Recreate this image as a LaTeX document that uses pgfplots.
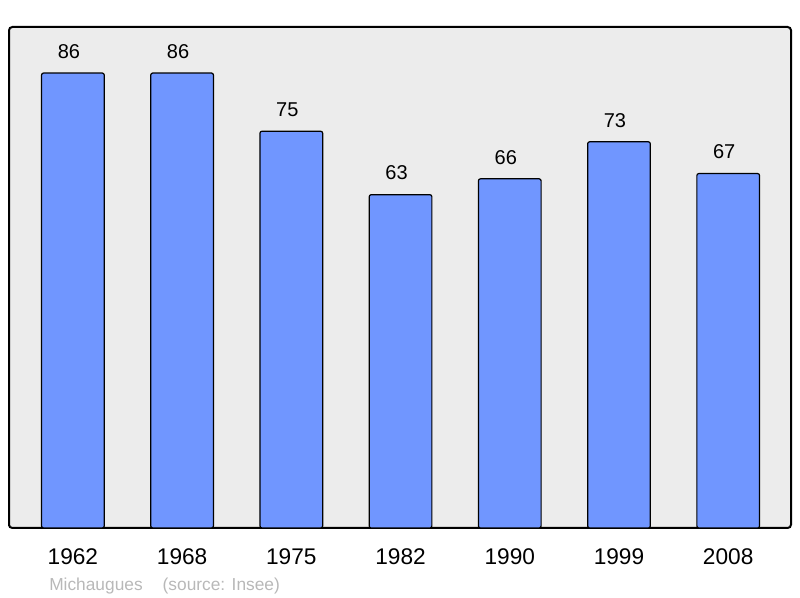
\documentclass[border=0pt]{standalone}
\usepackage{pgfplots}
\pgfplotsset{compat=1.18}
\usepackage{fontspec}
\setmainfont{Liberation Sans}
\definecolor{barblue}{HTML}{7096FF}
\definecolor{bggray}{HTML}{ECECEC}
\definecolor{srcgray}{HTML}{B8B8B8}
\begin{document}
\begin{tikzpicture}
\begin{axis}[
  scale only axis,
  width=586.5pt, height=375.75pt,
  xmin=-0.585, xmax=6.575,
  ymin=0, ymax=94.7,
  axis background/.style={fill=bggray},
  axis line style={line width=1.5pt, rounded corners=2.5pt},
  xtick=data,
  xticklabels={1962,1968,1975,1982,1990,1999,2008},
  xticklabel style={font=\fontsize{17}{17}\selectfont, anchor=north, inner sep=0pt, yshift=-15pt},
  ytick=\empty,
  major tick length=0pt,
  clip=false,
  nodes near coords,
  every node near coord/.append style={font=\fontsize{15}{15}\selectfont, anchor=south, inner sep=0pt, xshift=-3pt, yshift=10.5pt, black},
  /pgf/number format/assume math mode=true,
]
\addplot[ybar, bar width=47pt, fill=barblue, draw=black, line width=0.9pt, rounded corners=1.5pt]
  coordinates {(0,86) (1,86) (2,75) (3,63) (4,66) (5,73) (6,67)};
\node[anchor=base west, inner sep=0pt, text=srcgray, font=\fontsize{13}{13}\selectfont]
  at ([xshift=30pt, yshift=-47pt]rel axis cs:0,0) {Michaugues\hspace{15pt}(source: Insee)};
\coordinate (bl) at (rel axis cs:0,0);
\coordinate (tr) at (rel axis cs:1,1);
\end{axis}
\path ([xshift=-6.75pt, yshift=-52.5pt]bl) rectangle ([xshift=6.75pt, yshift=20.25pt]tr);
\end{tikzpicture}
\end{document}
